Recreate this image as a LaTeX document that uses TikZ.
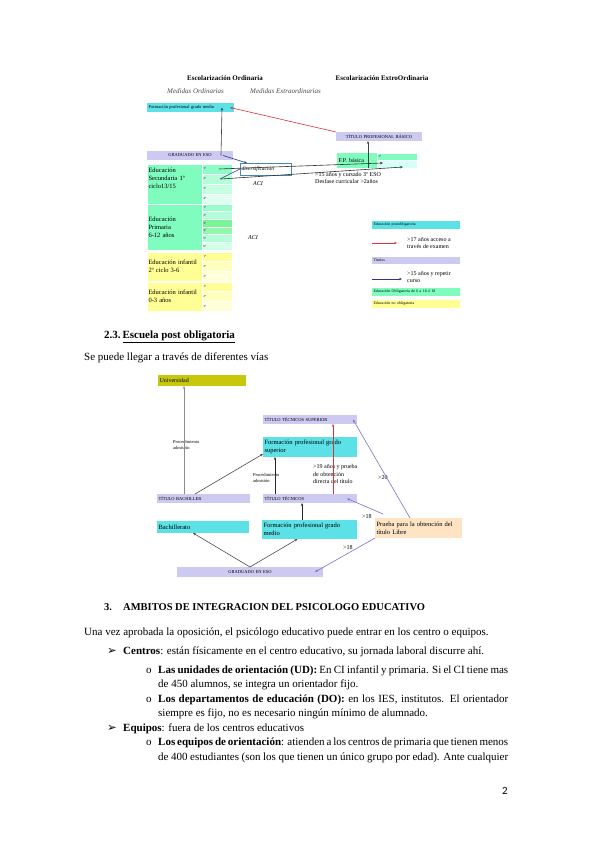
\documentclass[tikz,border=0pt]{standalone}
\usepackage{fontspec}
\setmainfont{Liberation Serif}
\newfontfamily\symfont{DejaVu Sans}
\newfontfamily\numfont{Carlito}
\usepackage{tikz}
\usetikzlibrary{arrows.meta}

\definecolor{turq}{RGB}{92,225,230}
\definecolor{lila}{RGB}{204,202,240}
\definecolor{verde}{RGB}{128,252,190}
\definecolor{verdeosc}{RGB}{120,245,150}
\definecolor{amarillo}{RGB}{255,255,150}
\definecolor{oliva}{RGB}{200,200,10}
\definecolor{melocoton}{RGB}{255,228,196}
\definecolor{morado}{RGB}{125,115,200}
\definecolor{azulosc}{RGB}{50,50,140}
\definecolor{rojo}{RGB}{220,50,60}
\definecolor{marco}{RGB}{70,140,170}
\definecolor{celeste}{RGB}{215,255,250}

\newcommand{\fsz}[2]{\fontsize{#1}{#2}\selectfont}
\newcommand{\linea}[1]{\makebox[350pt][s]{#1}}

\begin{document}
\begin{tikzpicture}[x=1pt, y=-1pt, >={Stealth[length=3pt,width=2.4pt]},
  cell/.style={anchor=north west, inner sep=1.5pt, outer sep=0pt, align=left},
  tit/.style={cell, fill=lila, font=\fsz{4.5}{5}},
  sub/.style={cell, draw=white, line width=0.6pt, text width=27pt, font=\fsz{3}{3}},
  bloque/.style={cell, draw=white, line width=0.6pt, text width=52pt, font=\fsz{6.5}{8}},
  leyenda/.style={cell, text width=85pt, minimum height=8pt, font=\fsz{4}{5}},
  nota/.style={anchor=west, inner sep=0pt, align=left, font=\fsz{6}{7.5}},
  caja/.style={cell, text width=91pt, font=\fsz{6.5}{8}},
  flecha/.style={line width=0.6pt},
  txt/.style={anchor=base west, inner sep=0pt, font=\fsz{11}{14}}]

\fill[white] (0,0) rectangle (599,848);
\useasboundingbox (0,0) rectangle (599,848);

% escolarizacion
\node[anchor=base, font=\bfseries\fsz{7}{8}] (eord) at (225,81) {Escolarización Ordinaria};
\node[anchor=base, font=\bfseries\fsz{7}{8}] (eext) at (382,81) {Escolarización ExtroOrdinaria};
\node[anchor=base west, inner sep=0pt, font=\itshape\fsz{7}{8}, text=black!70] (mord) at (167,94) {Medidas Ordinarias};
\node[anchor=base west, inner sep=0pt, font=\itshape\fsz{7}{8}, text=black!70] (mext) at (250,94) {Medidas Extraordinarias};

\node[cell, fill=turq, text width=84pt, minimum height=9pt, font=\fsz{4.5}{5}] (fpm) at (147,103) {Formación profesional grado medio};
\node[tit, text width=83pt, minimum height=9pt, align=center] (tpb) at (336,132) {TÍTULO PROFESIONAL BÁSICO};
\node[tit, text width=83pt, minimum height=9pt, align=center] (geso) at (147,151) {GRADUADO EN ESO};

\node[bloque, fill=verde, minimum height=40pt] (eso) at (147,164) {Educación\\Secundaria 1º\\ciclo13/15\\[4pt]~};
\foreach \i/\c in {1/verde!90, 2/verde!60, 3/verde!45, 4/verde!25}
  \node[sub, fill=\c, minimum height=10pt] (es\i) at (202,{164+(\i-1)*10}) {\i º};

\node[bloque, fill=verde, minimum height=46pt] (pri) at (147,204) {Educación\\Primaria\\6-12 años};
\foreach \i/\c in {1/verde!80, 2/verde!60, 3/verdeosc, 4/verdeosc!80, 5/verde!60, 6/verde!35}
  \node[sub, fill=\c, minimum height=7.67pt] (pr\i) at (202,{204+(\i-1)*7.67}) {\i º};

\node[bloque, fill=amarillo, minimum height=29pt] (inf) at (147,252) {Educación infantil\\2º ciclo 3-6};
\foreach \i/\c in {1/amarillo, 2/amarillo!60, 3/amarillo!35}
  \node[sub, fill=\c, minimum height=9.67pt] (in\i) at (202,{252+(\i-1)*9.67}) {\i º};

\node[bloque, fill=amarillo, minimum height=29pt] (cun) at (147,282) {Educación infantil\\0-3 años};
\foreach \i/\c in {1/amarillo, 2/amarillo!60, 3/amarillo!35}
  \node[sub, fill=\c, minimum height=9.67pt] (cu\i) at (202,{282+(\i-1)*9.67}) {\i º};

\node[cell, draw=marco, line width=0.6pt, text width=48pt, minimum height=12pt, font=\itshape\fsz{5.5}{7}] (div) at (240,163) {diversificación};
\node[cell, fill=verde, text width=37pt, minimum height=15pt, font=\fsz{6}{7}] (fpb) at (337,153) {F.P. básica};
\node[sub, fill=verde, text width=37pt, minimum height=7pt] (fpba) at (377,153) {1º};
\node[sub, fill=celeste, text width=37pt, minimum height=8pt] (fpbb) at (377,160) {};

\node[font=\itshape\fsz{6}{7}] (aci1) at (258,184) {ACI};
\node[font=\itshape\fsz{6}{7}] (aci2) at (253,238) {ACI};
\node[nota] (req) at (315,178) {>15 años y cursado 3º ESO\\Desfase curricular >2años};

\coordinate (fin1) at (383,163);
\coordinate (fin2) at (403,167);
\draw[flecha, rojo, ->] (tpb.north west) -- ([xshift=-4pt]fpm.east);
\draw[flecha, black!75, ->] ([xshift=-12pt]geso.east) -- ([xshift=-12pt]fpm.east);
\draw[flecha, azulosc, ->] ([xshift=-10pt]geso.east) -- ([xshift=7pt]div.north west);
\draw[flecha, black!75, ->] ([xshift=31pt]fpb.south west) -- ([xshift=32pt]tpb.south west);
\draw[flecha, black!80, ->] ([xshift=-13pt]es1.east) -- (fin1);
\draw[flecha, black!80, ->] ([xshift=-11pt]es2.east) -- (fin2);
\draw[flecha, azulosc] ([xshift=-12pt]es2.east) -- (div.west);

% leyenda
\node[leyenda, fill=turq] (lpos) at (372,221) {Educación postobligatoria};
\coordinate (lr1) at (372,243);
\coordinate (lr2) at (397,243);
\draw[flecha, rojo, ->] (lr1) -- (lr2);
\node[nota] (lexa) at (407,243) {>17 años acceso a\\través de examen};
\node[leyenda, fill=lila, minimum height=7pt] (ltit) at (372,257) {Títulos};
\coordinate (la1) at (372,279);
\coordinate (la2) at (402,279);
\draw[flecha, azulosc, ->] (la1) -- (la2);
\node[nota] (lrep) at (407,277) {>15 años y repetir\\curso};
\node[leyenda, fill=verde] (lobl) at (372,288) {Educación Obligatoria de 6 a 16 ó 18};
\node[leyenda, fill=amarillo] (lnob) at (372,300) {Educación no obligatoria};

% escuela post obligatoria
\node[txt, font=\bfseries\fsz{11}{13}] (h23) at (104,338) {2.3.\,\underline{Escuela post obligatoria}};
\node[txt] (vias) at (84,360) {Se puede llegar a través de diferentes vías};

\node[caja, fill=oliva, text width=85pt, minimum height=11pt, font=\fsz{6}{7}] (univ) at (158,375) {Universidad};
\node[tit, text width=91pt, minimum height=9pt] (tts) at (263,415) {TÍTULO TÉCNICOS SUPERIOR};
\node[caja, fill=turq, minimum height=20pt] (fps) at (263,437) {Formación profesional grado\\superior};
\node[tit, text width=90pt, minimum height=9pt] (tbac) at (157,494) {TÍTULO BACHILLER};
\node[tit, text width=91pt, minimum height=9pt] (ttec) at (263,494) {TÍTULO TÉCNICOS};
\node[caja, fill=turq, text width=89pt, minimum height=12pt] (bach) at (157,521) {Bachillerato};
\node[caja, fill=turq, text width=92pt, minimum height=19pt] (fpme) at (262,520) {Formación profesional grado\\medio};
\node[caja, fill=melocoton, text width=84pt, minimum height=20pt] (prue) at (375,518) {Prueba para la obtención del\\título Libre};
\node[tit, text width=143pt, minimum height=10pt, align=center] (geso2) at (177,567) {GRADUADO EN ESO};

\node[nota, font=\fsz{4.5}{6}] (adm1) at (173,445) {Procedimiento\\admisión};
\node[nota, font=\fsz{4.5}{6}] (adm2) at (253,478) {Procedimiento\\admisión};
\node[nota] (ob19) at (313,474) {>19 años y prueba\\de obtención\\directa del título};
\node[nota] (m20) at (378,478) {>20};
\node[nota] (m18a) at (362,517) {>18};
\node[nota] (m18b) at (343,548) {>18};

\draw[flecha, black!45, ->] ([xshift=27pt]tbac.north west) -- ([xshift=26pt]univ.south west);
\draw[flecha, black!70, ->] ([xshift=38pt]tbac.north west) -- ([yshift=3pt]fps.south west);
\draw[flecha, black!85, ->] ([xshift=12pt]ttec.north west) -- ([xshift=12pt]fps.south west);
\draw[flecha, rojo, ->] ([xshift=70pt]ttec.north west) -- ([xshift=70pt]tts.south west);
\draw[flecha, morado, ->] ([xshift=35pt]prue.north west) -- ([xshift=-4pt]tts.east);
\draw[flecha, morado, ->] ([xshift=8pt,yshift=4pt]prue.north west) -- ([xshift=-10pt]ttec.east);
\draw[flecha, black!85, ->] ([xshift=40pt]fpme.north west) -- ([xshift=39pt]ttec.south west);
\draw[flecha, black!70, ->] (geso2.north) -- ([xshift=-10pt]bach.south);
\draw[flecha, black!70, ->] (geso2.north) -- ([xshift=-12pt]fpme.south);
\draw[flecha, morado, ->] (prue.south west) -- ([xshift=-8pt]geso2.east);

% ambitos
\node[txt, font=\bfseries\fsz{10.5}{13}] (h3n) at (104,610) {3.};
\node[txt, font=\bfseries\fsz{10.5}{13}] (h3) at (123,610) {AMBITOS DE INTEGRACION DEL PSICOLOGO EDUCATIVO};
\node[txt] (p1) at (84,635) {Una vez aprobada la oposición, el psicólogo educativo puede entrar en los centro o equipos.};
\node[txt, font=\symfont\fsz{11.5}{13}] (b1) at (107,654) {➢};
\node[txt] (cen) at (123,654) {\textbf{Centros}: están físicamente en el centro educativo, su jornada laboral discurre ahí.};
\node[txt] (o1) at (146,673) {o};
\node[txt] (ud1) at (158,673) {\linea{\textbf{Las unidades de orientación (UD):} En CI infantil y primaria. Si el CI tiene mas}};
\node[txt] (ud2) at (158,687.5) {de 450 alumnos, se integra un orientador fijo.};
\node[txt] (o2) at (146,702) {o};
\node[txt] (do1) at (158,702) {\linea{\textbf{Los departamentos de educación (DO):} en los IES, institutos. El orientador}};
\node[txt] (do2) at (158,716.5) {siempre es fijo, no es necesario ningún mínimo de alumnado.};
\node[txt, font=\symfont\fsz{11.5}{13}] (b2) at (107,731) {➢};
\node[txt] (equ) at (123,731) {\textbf{Equipos}: fuera de los centros educativos};
\node[txt] (o3) at (146,745.5) {o};
\node[txt] (eo1) at (158,745.5) {\linea{\textbf{Los equipos de orientación}: atienden a los centros de primaria que tienen menos}};
\node[txt] (eo2) at (158,760) {\linea{de 400 estudiantes (son los que tienen un único grupo por edad). Ante cualquier}};
\node[txt, font=\numfont\fsz{11}{13}] (pag) at (502,794) {2};
\end{tikzpicture}
\end{document}
